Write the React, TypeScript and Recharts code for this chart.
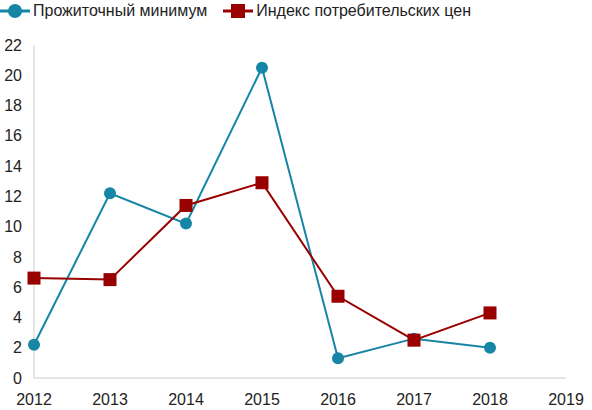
import React from 'react';
import { LineChart, Line, XAxis, YAxis } from 'recharts';

const YEARS = [2012, 2013, 2014, 2015, 2016, 2017, 2018];
const SUBSISTENCE = [2.2, 12.2, 10.2, 20.5, 1.3, 2.6, 2.0];
const CPI = [6.6, 6.5, 11.4, 12.9, 5.4, 2.5, 4.3];
const X_TICKS = [2012, 2013, 2014, 2015, 2016, 2017, 2018, 2019];
const Y_TICKS = [0, 2, 4, 6, 8, 10, 12, 14, 16, 18, 20, 22];

const BLUE = '#1785a6';
const RED = '#990000';
const FONT = '"Liberation Sans", Arial, sans-serif';

const data = YEARS.map((year, i) => ({ year, subsistence: SUBSISTENCE[i], cpi: CPI[i] }));

const SquareDot = (props: any) => {
  const { cx, cy } = props;
  if (cx == null || cy == null) return null;
  return <rect x={cx - 6.5} y={cy - 6.5} width={13} height={13} fill={RED} />;
};

const LegendItem = ({ color, square, label }: { color: string; square?: boolean; label: string }) => (
  <div style={{ display: 'flex', alignItems: 'center', marginRight: 16 }}>
    <svg width={30} height={20} style={{ marginRight: 3 }}>
      <line x1={0} y1={10} x2={30} y2={10} stroke={color} strokeWidth={3} />
      {square ? (
        <rect x={8} y={3} width={14} height={14} fill={color} />
      ) : (
        <circle cx={15} cy={10} r={7} fill={color} />
      )}
    </svg>
    <span>{label}</span>
  </div>
);

export default function App() {
  return (
    <div style={{ position: 'absolute', left: 0, top: 0, width: 592, height: 410, background: '#fff', fontFamily: FONT }}>
      <div style={{ position: 'absolute', left: 0, top: 1, display: 'flex', fontSize: 16, color: '#222' }}>
        <LegendItem color={BLUE} label="Прожиточный минимум" />
        <LegendItem color={RED} square label="Индекс потребительских цен" />
      </div>
      <LineChart width={592} height={410} data={data} margin={{ top: 45, right: 26, bottom: 0, left: 0 }}>
        <XAxis
          dataKey="year"
          type="number"
          domain={[2012, 2019]}
          ticks={X_TICKS}
          tickLine={false}
          axisLine={{ stroke: '#ccc' }}
          tickMargin={10}
          height={32}
          interval={0}
          tick={{ fill: '#222', fontSize: 16, fontFamily: FONT }}
        />
        <YAxis
          domain={[0, 22]}
          ticks={Y_TICKS}
          tickLine={false}
          axisLine={{ stroke: '#ccc' }}
          tickMargin={6}
          width={34}
          interval={0}
          tick={{ fill: '#222', fontSize: 16, fontFamily: FONT }}
        />
        <Line
          dataKey="subsistence"
          stroke={BLUE}
          strokeWidth={2}
          dot={{ r: 6, fill: BLUE, stroke: 'none' }}
          isAnimationActive={false}
        />
        <Line
          dataKey="cpi"
          stroke={RED}
          strokeWidth={2}
          dot={<SquareDot />}
          isAnimationActive={false}
        />
      </LineChart>
    </div>
  );
}
